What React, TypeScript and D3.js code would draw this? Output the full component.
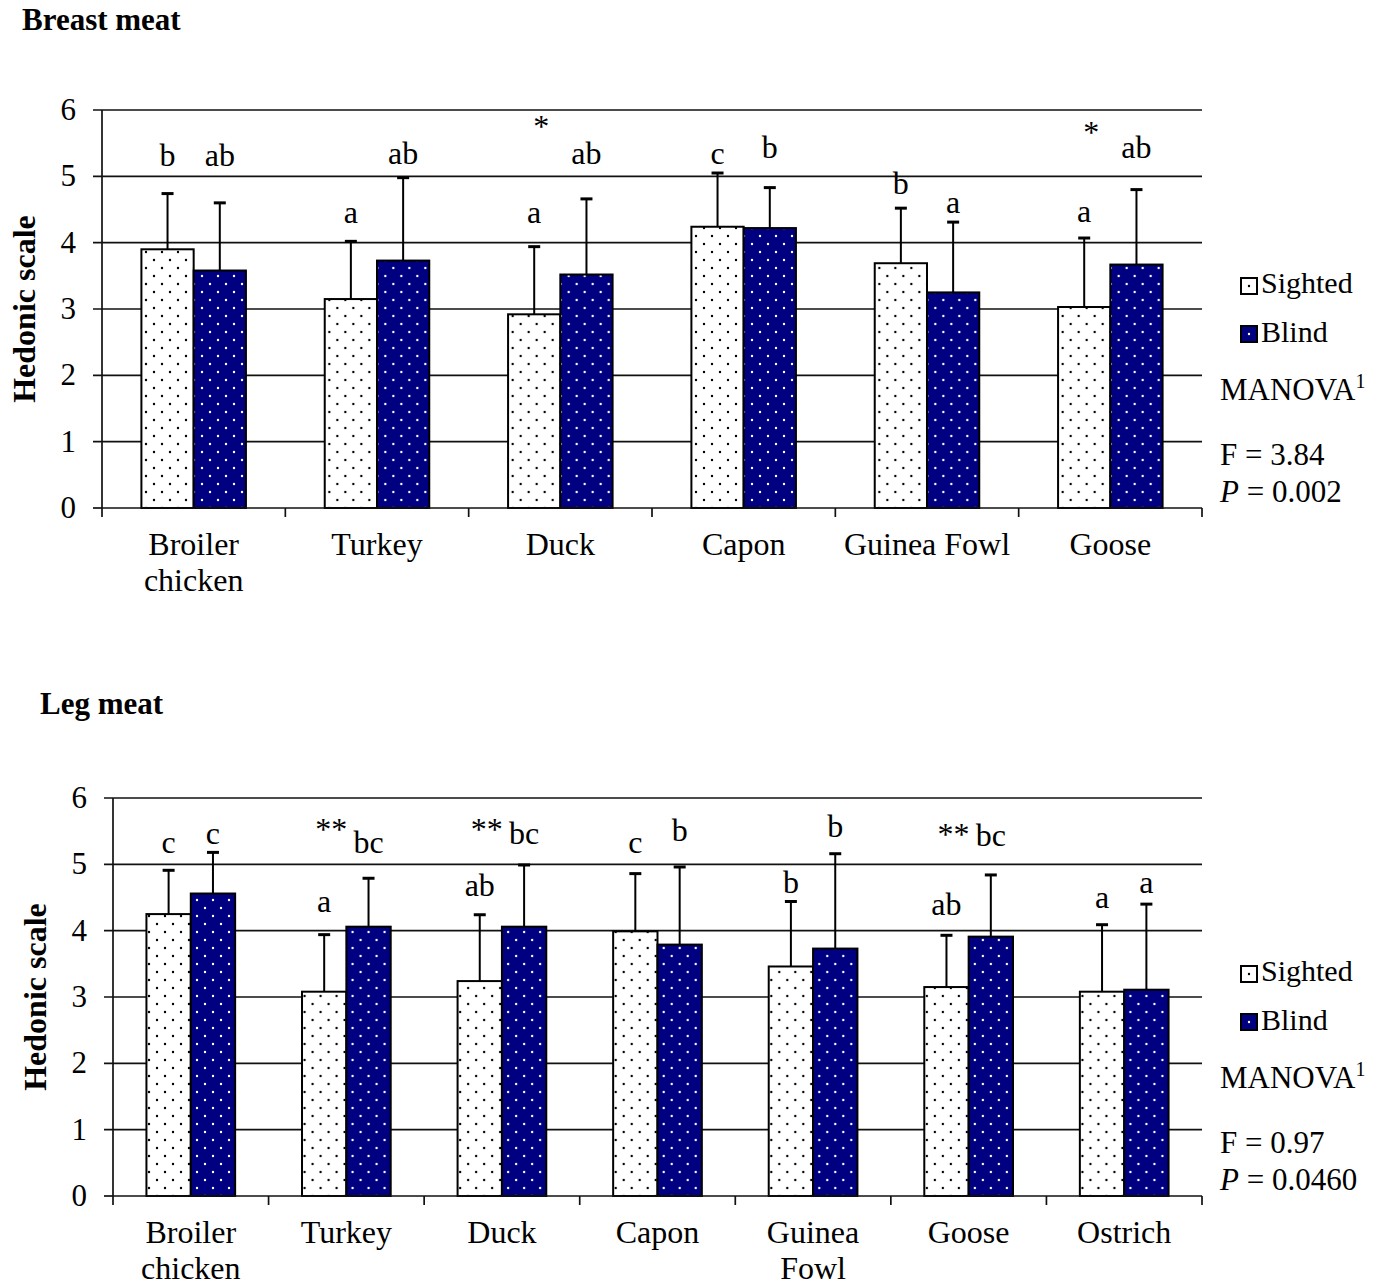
import * as d3 from 'd3'

// ---- Breast meat ----
const breastCategories = ['Broiler\nchicken', 'Turkey', 'Duck', 'Capon', 'Guinea Fowl', 'Goose']
const breastSighted = [3.9, 3.15, 2.92, 4.24, 3.69, 3.03]
const breastSightedSD = [0.84, 0.87, 1.02, 0.81, 0.83, 1.04]
const breastBlind = [3.58, 3.73, 3.52, 4.22, 3.25, 3.67]
const breastBlindSD = [1.02, 1.25, 1.14, 0.61, 1.06, 1.13]
const breastSightedLetters = ['b', 'a', 'a', 'c', 'b', 'a']
const breastSightedLetterAt = [5.15, 4.3, 4.3, 5.19, 4.73, 4.31]
const breastBlindLetters = ['ab', 'ab', 'ab', 'b', 'a', 'ab']
const breastBlindLetterAt = [5.15, 5.18, 5.18, 5.27, 4.45, 5.28]
const breastStars = ['', '', '*', '', '', '*']
const breastStarAt = [0, 0, 5.6, 0, 0, 5.5]
const breastStats = ['F = 3.84', '0.002']

// ---- Leg meat ----
const legCategories = ['Broiler\nchicken', 'Turkey', 'Duck', 'Capon', 'Guinea\nFowl', 'Goose', 'Ostrich']
const legSighted = [4.25, 3.08, 3.24, 3.99, 3.46, 3.15, 3.08]
const legSightedSD = [0.66, 0.86, 1.0, 0.87, 0.98, 0.78, 1.01]
const legBlind = [4.56, 4.06, 4.06, 3.79, 3.73, 3.91, 3.11]
const legBlindSD = [0.62, 0.73, 0.93, 1.17, 1.43, 0.93, 1.29]
const legSightedLetters = ['c', 'a', 'ab', 'c', 'b', 'ab', 'a']
const legSightedLetterAt = [5.17, 4.28, 4.52, 5.17, 4.57, 4.23, 4.34]
const legBlindLetters = ['c', 'bc', 'bc', 'b', 'b', 'bc', 'a']
const legBlindLetterAt = [5.3, 5.17, 5.3, 5.35, 5.41, 5.27, 4.57]
const legStars = ['', '**', '**', '', '', '**', '']
const legStarAt = [0, 5.37, 5.37, 0, 0, 5.29, 0]
const legStats = ['F = 0.97', '0.0460']

const groups = ['Sighted', 'Blind']
const yTicks = [0, 1, 2, 3, 4, 5, 6]

const FONT = "'Liberation Serif', 'Times New Roman', serif"
const NAVY = '#000080'

type PanelProps = {
  title: string
  titleX: number
  titleY: number
  left: number
  right: number
  y0: number
  y6: number
  categories: string[]
  sighted: number[]
  sightedSD: number[]
  blind: number[]
  blindSD: number[]
  sLetters: string[]
  sLetterAt: number[]
  bLetters: string[]
  bLetterAt: number[]
  stars: string[]
  starAt: number[]
  stats: string[]
}

function Panel(p: PanelProps) {
  const x = d3.scaleBand<string>().domain(p.categories).range([p.left, p.right]).padding(0)
  const x1 = d3.scaleBand<string>().domain(groups).range([0, x.bandwidth()]).paddingInner(0).paddingOuter(0.754)
  const y = d3.scaleLinear().domain([0, 6]).range([p.y0, p.y6])
  const bw = x1.bandwidth()
  const boundaries = [...p.categories.map((c) => x(c)!), p.right]

  const series = [
    { key: 'Sighted', vals: p.sighted, sd: p.sightedSD, fill: 'url(#dotsWhite)', letters: p.sLetters, at: p.sLetterAt },
    { key: 'Blind', vals: p.blind, sd: p.blindSD, fill: 'url(#dotsNavy)', letters: p.bLetters, at: p.bLetterAt },
  ]

  const legX = 1241
  const txtX = 1220

  return (
    <g fontFamily={FONT}>
      <text x={p.titleX} y={p.titleY} fontSize={31} fontWeight="bold">{p.title}</text>
      <text
        transform={`translate(${p.left - 67},${y(3)}) rotate(-90)`}
        textAnchor="middle"
        fontSize={32}
        fontWeight="bold"
      >
        Hedonic scale
      </text>

      {/* gridlines */}
      {yTicks.map((t) => (
        <g key={t}>
          <line x1={p.left - 9} x2={t === 0 ? p.left : p.right} y1={y(t)} y2={y(t)} stroke="#111" strokeWidth={1.7} />
          <text x={p.left - 26} y={y(t) + 10} textAnchor="end" fontSize={31}>{t}</text>
        </g>
      ))}

      {/* bars */}
      {p.categories.map((c, i) => (
        <g key={c} transform={`translate(${x(c)},0)`}>
          {series.map((s) => (
            <rect
              key={s.key}
              x={x1(s.key)}
              y={y(s.vals[i])}
              width={bw}
              height={y(0) - y(s.vals[i])}
              fill={s.fill}
              stroke="#000"
              strokeWidth={2}
            />
          ))}
          {series.map((s) => {
            const cx = x1(s.key)! + bw / 2
            return (
              <g key={s.key + 'e'} stroke="#000" strokeWidth={2}>
                <line x1={cx} x2={cx} y1={y(s.vals[i])} y2={y(s.vals[i] + s.sd[i])} />
                <line x1={cx - 6} x2={cx + 6} y1={y(s.vals[i] + s.sd[i])} y2={y(s.vals[i] + s.sd[i])} strokeWidth={3} />
              </g>
            )
          })}
          {series.map((s) => (
            <text key={s.key + 'l'} x={x1(s.key)! + bw / 2} y={y(s.at[i])} textAnchor="middle" fontSize={32}>
              {s.letters[i]}
            </text>
          ))}
          {p.stars[i] && (
            <text x={x1('Sighted')! + bw / 2 + 7} y={y(p.starAt[i])} textAnchor="middle" fontSize={32}>
              {p.stars[i]}
            </text>
          )}
        </g>
      ))}

      {/* axes */}
      <line x1={p.left} x2={p.left} y1={y(6)} y2={y(0)} stroke="#111" strokeWidth={1.7} />
      <line x1={p.left} x2={p.right} y1={y(0)} y2={y(0)} stroke="#111" strokeWidth={1.7} />
      {boundaries.map((b, i) => (
        <line key={i} x1={b} x2={b} y1={y(0)} y2={y(0) + 9} stroke="#111" strokeWidth={1.7} />
      ))}
      {p.categories.map((c) => (
        <text key={c} x={x(c)! + x.bandwidth() / 2} y={p.y0 + 47} textAnchor="middle" fontSize={32}>
          {c.split('\n').map((ln, j) => (
            <tspan key={j} x={x(c)! + x.bandwidth() / 2} dy={j === 0 ? 0 : 36}>{ln}</tspan>
          ))}
        </text>
      ))}

      {/* legend */}
      <rect x={legX} y={p.y0 - 230} width={16} height={16} fill="#fff" stroke="#000" strokeWidth={2} />
      <circle cx={legX + 8} cy={p.y0 - 222} r={1.2} fill="#000" />
      <text x={1261} y={p.y0 - 215} fontSize={30}>Sighted</text>
      <rect x={legX} y={p.y0 - 182} width={16} height={16} fill={NAVY} stroke="#000" strokeWidth={2} />
      <circle cx={legX + 8} cy={p.y0 - 174} r={1.2} fill="#fff" />
      <text x={1261} y={p.y0 - 166} fontSize={30}>Blind</text>
      <text x={txtX} y={p.y0 - 108} fontSize={31}>
        MANOVA<tspan fontSize={20} dy={-12}>1</tspan>
      </text>
      <text x={txtX} y={p.y0 - 43} fontSize={31}>{p.stats[0]}</text>
      <text x={txtX} y={p.y0 - 6} fontSize={31}>
        <tspan fontStyle="italic">P</tspan> = {p.stats[1]}
      </text>
    </g>
  )
}

export default function App() {
  return (
    <svg width={1388} height={1285} style={{ position: 'absolute', left: 0, top: 0, background: '#fff' }}>
      <defs>
        <pattern id="dotsWhite" width={16} height={16} patternUnits="userSpaceOnUse">
          <rect width={16} height={16} fill="#fff" />
          <circle cx={4} cy={4} r={1.2} fill="#000" />
          <circle cx={12} cy={12} r={1.2} fill="#000" />
        </pattern>
        <pattern id="dotsNavy" width={16} height={16} patternUnits="userSpaceOnUse">
          <rect width={16} height={16} fill={NAVY} />
          <circle cx={4} cy={4} r={1.2} fill="#fff" />
          <circle cx={12} cy={12} r={1.2} fill="#fff" />
        </pattern>
      </defs>
      <rect width={1388} height={1285} fill="#fff" />
      <Panel
        title="Breast meat"
        titleX={22}
        titleY={30}
        left={102}
        right={1202}
        y0={508}
        y6={110}
        categories={breastCategories}
        sighted={breastSighted}
        sightedSD={breastSightedSD}
        blind={breastBlind}
        blindSD={breastBlindSD}
        sLetters={breastSightedLetters}
        sLetterAt={breastSightedLetterAt}
        bLetters={breastBlindLetters}
        bLetterAt={breastBlindLetterAt}
        stars={breastStars}
        starAt={breastStarAt}
        stats={breastStats}
      />
      <Panel
        title="Leg meat"
        titleX={40}
        titleY={714}
        left={113}
        right={1202}
        y0={1196}
        y6={798}
        categories={legCategories}
        sighted={legSighted}
        sightedSD={legSightedSD}
        blind={legBlind}
        blindSD={legBlindSD}
        sLetters={legSightedLetters}
        sLetterAt={legSightedLetterAt}
        bLetters={legBlindLetters}
        bLetterAt={legBlindLetterAt}
        stars={legStars}
        starAt={legStarAt}
        stats={legStats}
      />
    </svg>
  )
}
